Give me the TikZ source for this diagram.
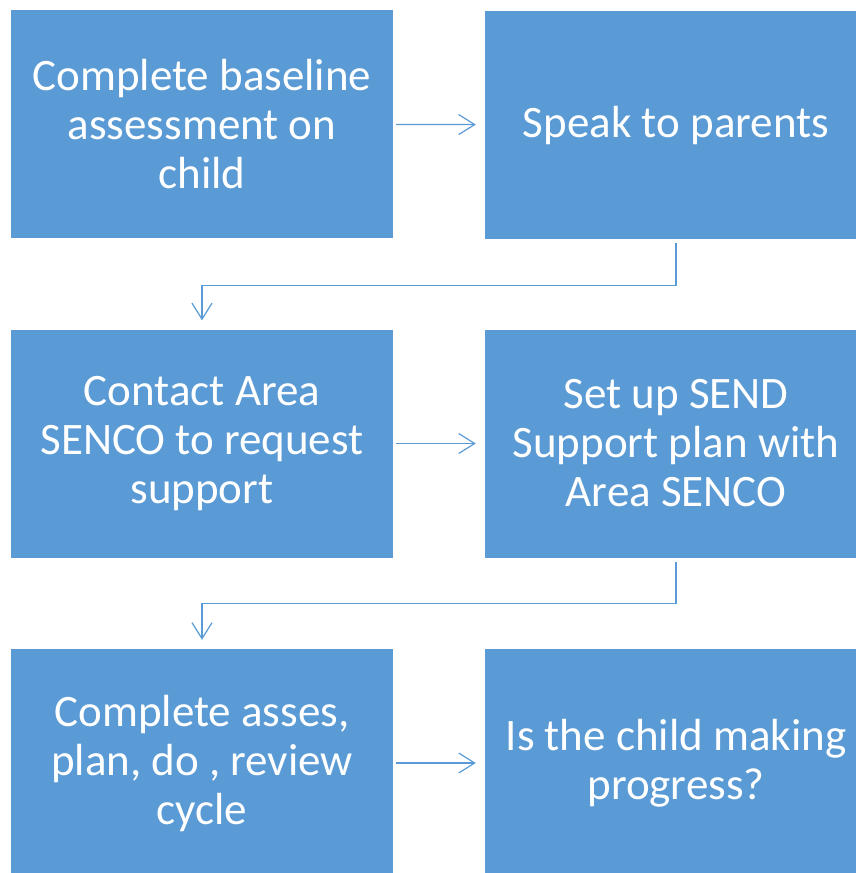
\documentclass[tikz,border=0pt]{standalone}
\usepackage{fontspec}
\setmainfont{Carlito}
\usetikzlibrary{arrows.meta}
\definecolor{boxblue}{HTML}{5B9BD5}
\begin{document}
\begin{tikzpicture}[x=1pt,y=-1pt,
  stepbox/.style={fill=boxblue, text=white, minimum width=382pt, minimum height=228pt,
    inner sep=0pt, align=center, font=\fontsize{45}{49}\selectfont},
  flow/.style={draw=boxblue, line width=1.2pt, -{Straight Barb[length=16pt,width=20pt]}}]

\useasboundingbox (0,0) rectangle (856,873);

\node[stepbox] (baseline) at (202,124) {Complete baseline\\assessment on\\child};
\node[stepbox] (parents) at (676,125) {Speak to parents};

\node[stepbox] (contact) at (202,443.5) {Contact Area\\SENCO to request\\support};
\node[stepbox] (plan) at (676,443.5) {Set up SEND\\Support plan with\\Area SENCO};

\node[stepbox] (cycle) at (202,763) {Complete asses,\\plan, do , review\\cycle};
\node[stepbox] (progress) at (676,763) {Is the child making\\progress?};

\draw[flow, shorten <=3pt, shorten >=9pt] (baseline) -- (parents);
\draw[flow, shorten <=3pt, shorten >=9pt] (contact) -- (plan);
\draw[flow, shorten <=3pt, shorten >=9pt] (cycle) -- (progress);

\draw[flow, shorten <=4pt, shorten >=9pt] (parents.south) -- ++(0,46) -| (contact.north);
\draw[flow, shorten <=4pt, shorten >=9pt] (plan.south) -- ++(0,46) -| (cycle.north);

\end{tikzpicture}
\end{document}
